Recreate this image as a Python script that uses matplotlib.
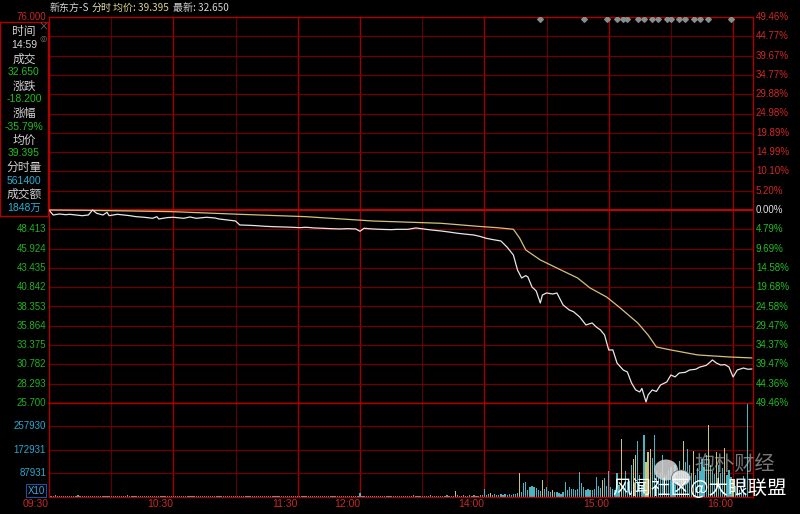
import numpy as np
import matplotlib.pyplot as plt
from matplotlib.patches import Rectangle, Ellipse

plt.rcParams['font.family'] = ['Noto Sans CJK SC', 'DejaVu Sans']

W, H = 800, 514
NUM = ['Liberation Sans', 'Noto Sans CJK SC', 'DejaVu Sans']

# 分时价格: 分钟序号(09:30 = 0, 午休跳过) 和价格
price_min = [0, 2, 5, 8, 10, 13, 16, 19, 21, 23, 26, 28, 29, 33, 36, 39, 42, 46, 50, 52,
             53, 57, 60, 65, 68, 71, 76, 80, 82, 86, 90, 92, 96, 100, 104, 108, 113, 117, 121, 124,
             128, 132, 136, 140, 144, 148, 150, 152, 156, 160, 165, 168, 173, 177, 182, 186, 189, 193, 197, 201,
             205, 208, 211, 214, 218, 221, 224, 226, 228, 230, 231, 233, 235, 237, 238, 240, 243, 245, 248, 251,
             253, 256, 259, 262, 264, 266, 268, 270, 272, 274, 277, 279, 281, 283, 285, 286, 288, 289, 291, 293,
             295, 298, 300, 302, 304, 307, 309, 312, 314, 317, 319, 320, 322, 324, 326, 328, 330, 332, 335, 337, 339]
price_val = [50.85, 50.20, 50.33, 50.24, 50.29, 50.20, 50.11, 50.20, 50.85, 50.42, 50.20, 50.55, 50.11, 50.29, 50.20, 50.11, 49.98, 49.90, 49.77, 49.98,
             49.68, 49.86, 49.90, 49.77, 49.94, 49.77, 49.90, 49.81, 49.68, 49.55, 49.42, 48.90, 48.86, 48.81, 48.73, 48.68, 48.64, 48.60, 48.55, 48.60,
             48.51, 48.47, 48.42, 48.38, 48.42, 48.38, 48.08, 48.47, 48.38, 48.33, 48.29, 48.33, 48.33, 48.51, 48.33, 48.20, 48.12, 47.98, 47.82, 47.70,
             47.59, 47.40, 47.16, 47.00, 46.81, 46.00, 44.99, 43.03, 41.99, 42.30, 42.12, 40.82, 40.30, 38.73, 39.77, 40.04, 39.90, 40.04, 38.47, 37.82,
             37.60, 36.91, 35.87, 36.13, 35.60, 35.22, 34.56, 32.61, 32.61, 30.91, 30.00, 29.74, 28.31, 27.40, 27.14, 27.60, 25.83, 26.75, 27.40, 27.20,
             28.05, 28.44, 29.35, 29.10, 29.61, 29.70, 30.00, 30.10, 30.39, 30.60, 31.05, 31.31, 30.90, 30.65, 30.70, 30.39, 29.09, 30.00, 30.26, 30.10, 30.13]

# 均价线
avg_min = [0, 20, 40, 60, 92, 124, 156, 189, 208, 216, 224, 227, 230, 237, 245, 255, 261, 269, 275, 284,
           289, 293, 300, 313, 328, 339]
avg_val = [50.85, 50.80, 50.72, 50.63, 50.29, 49.98, 49.42, 49.12, 48.70, 48.55, 48.34, 47.20, 45.64, 44.34, 43.29, 41.99, 40.69, 39.51, 38.21, 36.13,
           34.56, 33.00, 32.61, 31.96, 31.70, 31.57]

# 分时量 (单位: 千, X10)
vol_k = [16, 5, 4, 6, 4, 3, 5, 4, 3, 4,
         5, 3, 4, 4, 6, 3, 4, 3, 5, 4,
         3, 4, 4, 3, 5, 4, 3, 4, 3, 4,
         4, 3, 5, 3, 4, 3, 3, 4, 6, 3,
         4, 3, 3, 4, 3, 5, 3, 4, 3, 3,
         3, 4, 3, 3, 4, 3, 3, 5, 3, 3,
         4, 3, 3, 3, 4, 3, 3, 3, 4, 3,
         3, 4, 3, 3, 3, 4, 3, 3, 3, 4,
         3, 3, 4, 3, 3, 3, 3, 4, 3, 3,
         3, 3, 4, 3, 3, 3, 4, 3, 3, 3,
         4, 3, 3, 3, 3, 4, 3, 3, 3, 3,
         3, 4, 3, 3, 3, 3, 4, 3, 3, 3,
         3, 3, 4, 3, 3, 3, 3, 3, 4, 3,
         3, 3, 3, 4, 3, 3, 3, 3, 3, 4,
         3, 3, 3, 3, 4, 3, 3, 3, 3, 5,
         15, 5, 4, 3, 4, 3, 4, 3, 3, 4,
         3, 4, 3, 3, 5, 3, 4, 3, 3, 4,
         4, 3, 5, 4, 3, 4, 6, 4, 3, 5,
         4, 5, 3, 4, 6, 4, 3, 5, 4, 4,
         5, 4, 6, 4, 5, 4, 22, 6, 5, 4,
         6, 5, 4, 7, 5, 6, 5, 4, 6, 7,
         30, 8, 12, 15, 8, 10, 7, 9, 11, 8,
         10, 9, 12, 8, 11, 10, 14, 89, 20, 52,
         55, 26, 37, 41, 37, 33, 26, 22, 63, 30,
         37, 22, 18, 26, 20, 18, 15, 11, 20, 55,
         26, 37, 30, 30, 26, 30, 92, 52, 37, 26,
         30, 26, 26, 30, 74, 41, 33, 63, 70, 41,
         96, 37, 30, 26, 89, 44, 211, 30, 96, 55,
         59, 118, 137, 152, 204, 81, 44, 226, 126, 163,
         174, 141, 226, 96, 74, 89, 155, 81, 81, 100,
         111, 89, 118, 100, 133, 100, 204, 126, 174, 118,
         89, 167, 81, 107, 96, 137, 111, 152, 263, 115,
         96, 85, 163, 115, 89, 107, 178, 81, 100, 74,
         63, 41, 41, 26, 30, 78, 15, 340]
vol_yellow = [196, 213, 227, 238, 243, 267, 276, 282, 283, 288, 289, 290, 306, 311, 318, 322, 326, 330]

mark_min = [237, 258, 269, 274, 277, 279, 284, 287, 291, 294, 298, 300, 304, 307, 311, 314, 318, 329]

time_min = [0, 60, 120, 150, 210, 270, 330]
time_lbl = ['09:30', '10:30', '11:30', '12:00', '14:00', '15:00', '16:00']

pct_up = ['49.46%', '44.77%', '39.67%', '34.77%', '29.88%', '24.98%', '19.89%', '14.99%', '10.10%', '5.20%']
pct_dn = ['4.79%', '9.69%', '14.58%', '19.68%', '24.58%', '29.47%', '34.37%', '39.47%', '44.36%', '49.46%']
price_lbl = ['48.413', '45.924', '43.435', '40.842', '38.353', '35.864', '33.375', '30.782', '28.293', '25.700']
vol_ticks = [87931, 172931, 257930]

p_top, p_bot, pre_close = 76.0, 25.7, 50.85
v_top = 342930

info = [('时间', '14:59', '#d8d8d8'), ('成交', '32.650', '#20c020'), ('涨跌', '-18.200', '#20c020'),
        ('涨幅', '-35.79%', '#20c020'), ('均价', '39.395', '#20c020'), ('分时量', '561400', '#28b0d8'),
        ('成交额', '1848万', '#28b0d8')]


def fx(x):
    return x / W


def fy(y):
    return 1 - y / H


fig = plt.figure(figsize=(W / 100, H / 100), dpi=100, facecolor='black')
ax = fig.add_axes([fx(49), fy(403), 704 / W, 386 / H], facecolor='black')
axv = fig.add_axes([fx(49), fy(497), 704 / W, 94 / H], facecolor='black')

xmax = 339.6
grid_c = '#700000'
bright = '#b00000'

for a in (ax, axv):
    a.set_xlim(0, xmax)
    a.set_xticks([])
    a.set_yticks([])
    for s in a.spines.values():
        s.set_color(bright)
        s.set_linewidth(1.0)
    for m in range(30, 331, 30):
        hour = m in (60, 120, 150, 210, 270, 330)
        a.axvline(m, color='#a00000' if hour else '#5e0000', lw=1.0 if hour else 0.8, zorder=0)

# 价格区
levels = np.linspace(p_bot, p_top, 21)
ax.set_ylim(p_bot, p_top)
for lv in levels[1:-1]:
    if abs(lv - pre_close) < 0.1:
        ax.axhline(lv, color='#c80000', lw=1.4, zorder=0)
    else:
        ax.axhline(lv, color=grid_c, lw=0.9, zorder=0)

ax.plot(avg_min, avg_val, color='#d6c07a', lw=0.9, zorder=3)
ax.plot(price_min, price_val, color='#e6e6e6', lw=0.9, zorder=4)
ax.scatter(mark_min, [75.72] * len(mark_min), marker='D', s=8, color='#8c8c8c', zorder=5)

ytr = ax.get_yaxis_transform()
up_levels = levels[::-1][:10]
dn_levels = levels[:10][::-1]
for lv, t in zip(up_levels, pct_up):
    ax.text(1.004, lv, t, transform=ytr, color='#d02828', fontsize=7, va='center', ha='left', family=NUM)
ax.text(1.004, pre_close, '0.00%', transform=ytr, color='#e0e0e0', fontsize=7, va='center', ha='left', family=NUM)
for lv, t in zip(dn_levels, pct_dn):
    ax.text(1.004, lv, t, transform=ytr, color='#20c020', fontsize=7, va='center', ha='left', family=NUM)
for lv, t in zip(dn_levels, price_lbl):
    ax.text(-0.004, lv, t, transform=ytr, color='#20b020', fontsize=7, va='center', ha='right', family=NUM)
ax.text(-0.004, p_top, '76.000', transform=ytr, color='#c82828', fontsize=7, va='center', ha='right', family=NUM)

# 成交量区
axv.set_ylim(0, v_top)
for vt in vol_ticks:
    axv.axhline(vt, color=grid_c, lw=0.9, zorder=0)
vol = np.array(vol_k) * 1000
mins = np.arange(len(vol))
cols = ['#c8c47a' if m in vol_yellow else '#48b4c4' for m in mins]
axv.bar(mins, vol, width=0.6, color=cols, linewidth=0, zorder=2)

vtr = axv.get_yaxis_transform()
for vt in vol_ticks:
    axv.text(-0.004, vt, str(vt), transform=vtr, color='#28a8d0', fontsize=7, va='center', ha='right', family=NUM)
axv.text(-0.006, 0.065, 'X10', transform=axv.transAxes, color='#40a8e0', fontsize=7, va='center', ha='right',
         family=NUM, bbox=dict(boxstyle='square,pad=0.15', fc='black', ec='#2050a0', lw=0.8))

xtr = axv.get_xaxis_transform()
for m, t in zip(time_min, time_lbl):
    axv.text(m, -0.075, t, transform=xtr, color='#c82828', fontsize=7.5, va='center', ha='right', family=NUM)

# 标题
title_parts = [(50, '新东方-S', '#d4d4d4'), (92, '分时', '#e4dca8'), (113, '均价: 39.395', '#dcd490'),
               (173, '最新: 32.650', '#d4d4d4')]
for x, t, c in title_parts:
    fig.text(fx(x), fy(8), t, color=c, fontsize=7.2, va='center', ha='left')

# 左侧信息栏
fig.patches.append(Rectangle((fx(0), fy(216)), fx(48), (216 - 22) / H, transform=fig.transFigure,
                             fill=False, ec=bright, lw=1.0))
fig.text(fx(43), fy(27), '×', color='#707070', fontsize=7, ha='center', va='center')
fig.text(fx(43), fy(38), '◎', color='#707070', fontsize=6, ha='center', va='center', family=['DejaVu Sans'])
y0 = 32
for i, (name, val, c) in enumerate(info):
    fig.text(fx(24), fy(y0 + i * 27.0), name, color='#d0d0d0', fontsize=8.5, ha='center', va='center')
    fig.text(fx(24), fy(y0 + 13.5 + i * 27.0), val, color=c, fontsize=7.5, ha='center', va='center', family=NUM)

# 水印
fig.patches.append(Ellipse((fx(666), fy(470)), 24 / W, 21 / H, transform=fig.transFigure,
                           fc='#d8d8d8', ec='none', alpha=0.85, zorder=10))
fig.patches.append(Ellipse((fx(681), fy(478)), 19 / W, 16 / H, transform=fig.transFigure,
                           fc='#e8e8e8', ec='#606060', lw=0.6, alpha=0.9, zorder=11))
fig.text(fx(694), fy(464), '抱朴财经', color='#c8c8c8', alpha=0.6, fontsize=14.5, ha='left', va='center', zorder=12)
fig.text(fx(612), fy(488), '风闻社区@大眼联盟', color='white', fontsize=14, ha='left', va='center', zorder=13)

fig.savefig('out.png', dpi=100, facecolor='black')
